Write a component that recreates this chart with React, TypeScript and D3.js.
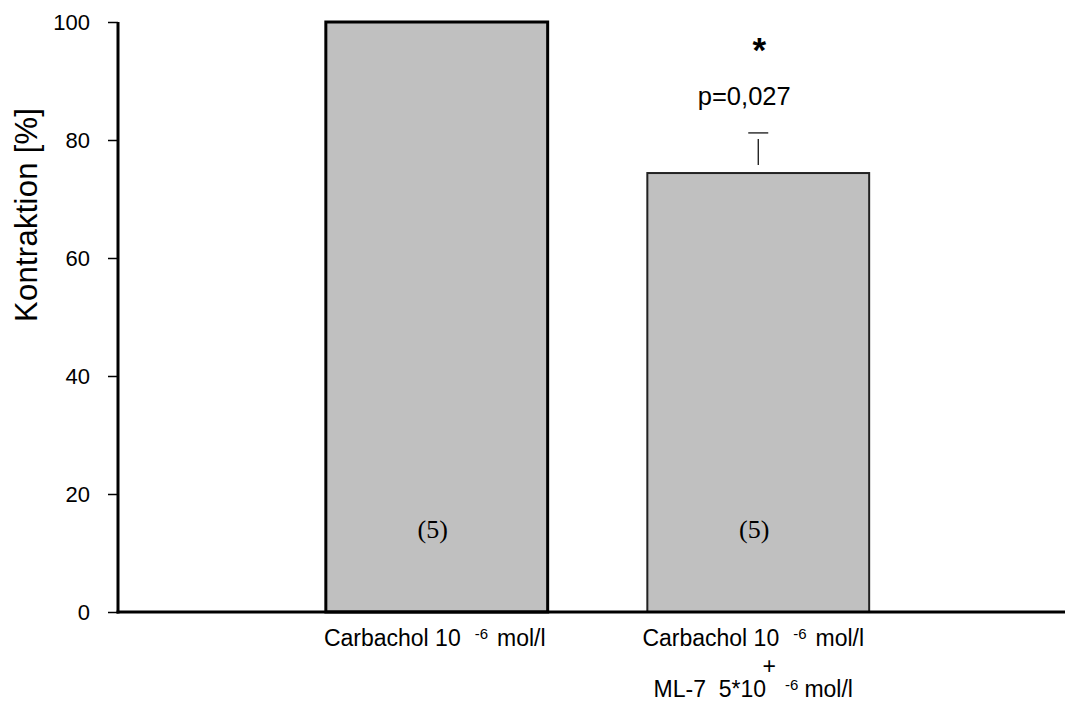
import React, { useRef, useEffect } from 'react';
import * as d3 from 'd3';

const categories = ['carb', 'carbMl7'];
const values = [100, 74.4];
const errors = [null, 6.8];
const nLabels = ['(5)', '(5)'];
const yTicks = [0, 20, 40, 60, 80, 100];
const pText = 'p=0,027';

const App = () => {
    const ref = useRef<SVGSVGElement>(null);

    useEffect(() => {
        const svg = d3.select(ref.current);
        svg.selectAll('*').remove();

        const axisLeft = 118, axisRight = 1065;

        const y = d3.scaleLinear().domain([0, 100]).range([612, 22]);
        const x = d3.scaleBand<string>()
            .domain(categories)
            .range([276, 919])
            .paddingInner(0.31)
            .paddingOuter(0.155);

        const sans = 'Arial, "Liberation Sans", sans-serif';

        // bars
        categories.forEach((c, i) => {
            svg.append('rect')
                .attr('x', x(c)!)
                .attr('y', y(values[i]))
                .attr('width', x.bandwidth())
                .attr('height', y(0) - y(values[i]))
                .attr('fill', '#c0c0c0')
                .attr('stroke', i === 0 ? '#000' : '#222')
                .attr('stroke-width', i === 0 ? 3 : 2);

            svg.append('text')
                .attr('x', x(c)! + x.bandwidth() / 2 - 4)
                .attr('y', y(12.5))
                .attr('text-anchor', 'middle')
                .attr('font-family', '"Liberation Serif", "Times New Roman", serif')
                .attr('font-size', 26)
                .text(nLabels[i]);

            const e = errors[i];
            if (e != null) {
                const cx = x(c)! + x.bandwidth() / 2;
                const top = y(values[i] + e);
                svg.append('line')
                    .attr('x1', cx).attr('x2', cx)
                    .attr('y1', top + 6).attr('y2', y(values[i]) - 8)
                    .attr('stroke', '#000').attr('stroke-width', 1.2);
                svg.append('line')
                    .attr('x1', cx - 10).attr('x2', cx + 10)
                    .attr('y1', top).attr('y2', top)
                    .attr('stroke', '#000').attr('stroke-width', 1.2);
                svg.append('text')
                    .attr('x', cx - 14)
                    .attr('y', top - 28)
                    .attr('text-anchor', 'middle')
                    .attr('font-family', sans)
                    .attr('font-size', 25.5)
                    .text(pText);
                svg.append('text')
                    .attr('x', cx + 1)
                    .attr('y', top - 71)
                    .attr('text-anchor', 'middle')
                    .attr('font-family', sans)
                    .attr('font-weight', 'bold')
                    .attr('font-size', 35)
                    .text('*');
            }
        });

        // y axis
        const ya = svg.append('g')
            .attr('transform', `translate(${axisLeft},0)`)
            .call(d3.axisLeft(y).tickValues(yTicks).tickSize(10).tickPadding(18));
        ya.select('.domain').remove();
        ya.selectAll('line').attr('stroke-width', 1.5);
        ya.selectAll('text')
            .attr('font-family', sans)
            .attr('font-size', 22)
            .attr('fill', '#000');

        svg.append('line')
            .attr('x1', axisLeft).attr('x2', axisLeft)
            .attr('y1', y(100)).attr('y2', y(0) + 1.5)
            .attr('stroke', '#000').attr('stroke-width', 3);
        svg.append('line')
            .attr('x1', axisLeft - 1.5).attr('x2', axisRight)
            .attr('y1', y(0)).attr('y2', y(0))
            .attr('stroke', '#000').attr('stroke-width', 3);

        svg.append('text')
            .attr('transform', `translate(37,215) rotate(-90)`)
            .attr('text-anchor', 'middle')
            .attr('font-family', sans)
            .attr('font-size', 31)
            .attr('textLength', 214)
            .attr('lengthAdjust', 'spacing')
            .text('Kontraktion [%]');

        // category labels
        const carbLabel = (cx: number, yy: number, prefix: string, gapA: number, gapB: number) => {
            const t = svg.append('text')
                .attr('x', cx)
                .attr('y', yy)
                .attr('text-anchor', 'middle')
                .attr('font-family', sans)
                .attr('font-size', 23);
            t.append('tspan').text(prefix);
            t.append('tspan').attr('dx', gapA).attr('dy', -7).attr('font-size', 15).text('-6');
            t.append('tspan').attr('dx', gapB).attr('dy', 7).text('mol/l');
        };
        const c0 = x(categories[0])! + x.bandwidth() / 2;
        const c1 = x(categories[1])! + x.bandwidth() / 2;
        carbLabel(c0 - 2, 646, 'Carbachol 10', 14, 9);
        carbLabel(c1 - 5, 646, 'Carbachol 10', 14, 9);
        svg.append('text')
            .attr('x', c1 + 11)
            .attr('y', 674)
            .attr('text-anchor', 'middle')
            .attr('font-family', sans)
            .attr('font-size', 23)
            .text('+');
        carbLabel(c1 - 5, 697, 'ML-7\u00a0\u00a05*10', 19, 6);
    }, []);

    return (
        <svg ref={ref} width={1066} height={707}
            style={{ position: 'absolute', left: 0, top: 0, background: '#fff' }} />
    );
};

export default App;
